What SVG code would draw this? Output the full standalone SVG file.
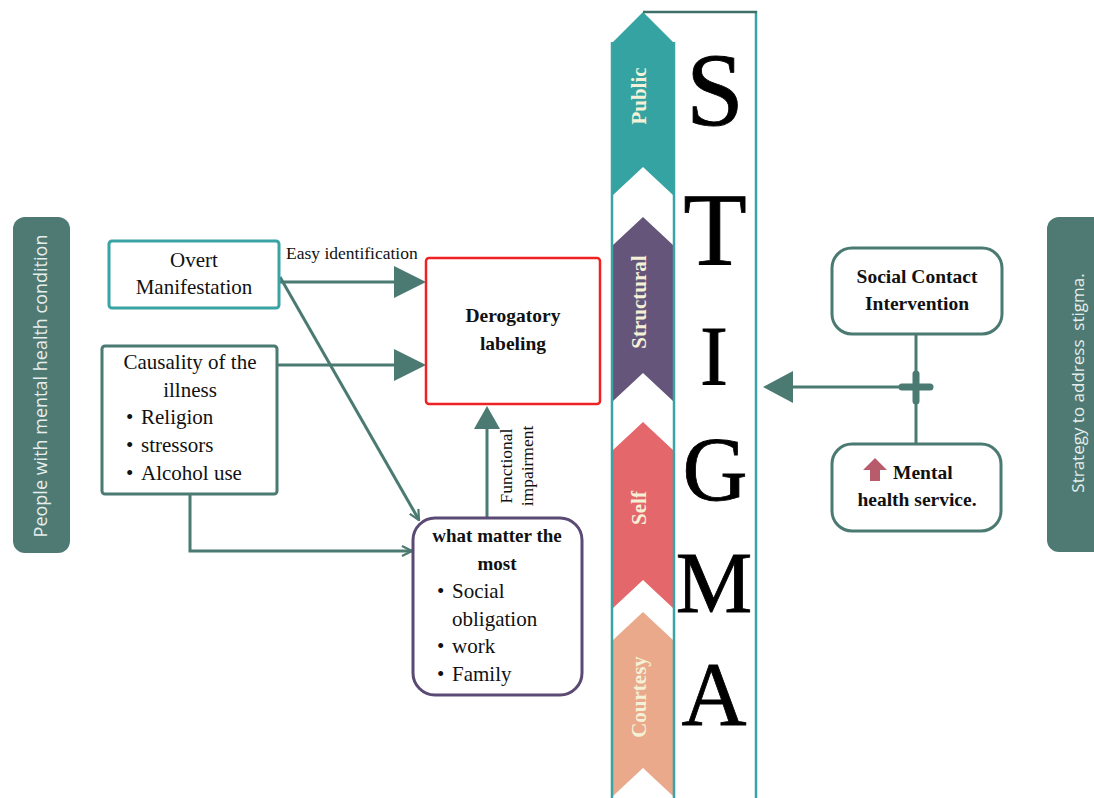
<svg xmlns="http://www.w3.org/2000/svg" width="1094" height="798" viewBox="0 0 1094 798">
<style>
.serif{font-family:"Liberation Serif","Times New Roman",serif;fill:#111}
.b{font-weight:bold}
.pill{fill:#4e7a73}
.pilltxt{font-family:"Open Sans","Noto Sans",sans-serif;fill:#e6eeec}
.conn{stroke:#4b7a72;stroke-width:3;fill:none}
.chev{font-family:"Liberation Serif",serif;font-weight:bold;font-size:21px;fill:#f4f1d6}
.big{font-family:"Liberation Serif","Times New Roman",serif;fill:#000;stroke:#000;stroke-width:0.8}
</style>
<defs>
<marker id="small" viewBox="0 0 12 12" refX="11" refY="6" markerWidth="12" markerHeight="12" markerUnits="userSpaceOnUse" orient="auto">
<path d="M1,1 L11,6 L1,11" fill="none" stroke="#4b7a72" stroke-width="2.2"/>
</marker>
</defs>
<rect width="1094" height="798" fill="#fff"/>

<g id="pill-left">
<rect class="pill" x="13" y="217" width="57" height="336" rx="12"/>
<text class="pilltxt" font-size="18" transform="rotate(-90 47 386)" x="47" y="386" text-anchor="middle">People with mental health condition</text>
</g>
<g id="pill-right">
<rect class="pill" x="1047" y="217" width="60" height="335" rx="12"/>
<text class="pilltxt" font-size="17" transform="rotate(-90 1084 383)" x="1084" y="383" text-anchor="middle" xml:space="preserve">Strategy to address  stigma.</text>
</g>

<g id="stigma">
<polygon points="613,42 643,12 673,42 673,195 643,167 613,195" fill="#35a3a2"/>
<polygon points="613,245 643,217 673,245 673,401 643,373 613,401" fill="#66557a"/>
<polygon points="613,450 643,422 673,450 673,608 643,580 613,608" fill="#e4676c"/>
<polygon points="613,640 643,612 673,640 673,796 643,768 613,796" fill="#e9a98a"/>
<line x1="612" y1="42" x2="612" y2="798" stroke="#3aa3a3" stroke-width="2.5"/>
<line x1="674" y1="42" x2="674" y2="798" stroke="#3aa3a3" stroke-width="2.5"/>
<line x1="756" y1="11" x2="756" y2="798" stroke="#3aa3a3" stroke-width="2.5"/>
<line x1="643" y1="12" x2="757" y2="12" stroke="#3f6f69" stroke-width="2.5"/>
<text class="chev" transform="rotate(-90 646 96)" x="646" y="96" text-anchor="middle">Public</text>
<text class="chev" transform="rotate(-90 646 302)" x="646" y="302" text-anchor="middle">Structural</text>
<text class="chev" transform="rotate(-90 646 508)" x="646" y="508" text-anchor="middle">Self</text>
<text class="chev" transform="rotate(-90 646 697)" x="646" y="697" text-anchor="middle">Courtesy</text>
<text class="big" x="715" y="125" font-size="104" text-anchor="middle">S</text>
<text class="big" x="715" y="265" font-size="104" text-anchor="middle">T</text>
<text class="big" x="714" y="385" font-size="84" text-anchor="middle">I</text>
<text class="big" x="715" y="500" font-size="90" text-anchor="middle">G</text>
<text class="big" x="714" y="612" font-size="86" text-anchor="middle">M</text>
<text class="big" x="714" y="725" font-size="90" text-anchor="middle">A</text>
</g>

<g id="connectors">
<line class="conn" x1="279" y1="282" x2="396" y2="282"/>
<polygon points="394,266 426,282 394,298" fill="#4b7a72"/>
<line class="conn" x1="277" y1="365" x2="396" y2="365"/>
<polygon points="394,349 426,365 394,381" fill="#4b7a72"/>
<line class="conn" x1="280" y1="277" x2="419" y2="520" marker-end="url(#small)"/>
<polyline class="conn" points="190,494 190,551 412,551" marker-end="url(#small)"/>
<line class="conn" x1="487" y1="518" x2="487" y2="426"/>
<polygon points="474,429 487,406 500,429" fill="#4b7a72"/>
<line class="conn" x1="916" y1="334" x2="916" y2="444"/>
<line class="conn" x1="930" y1="387" x2="790" y2="387"/>
<polygon points="793,371 763,387 793,403" fill="#4b7a72"/>
<line x1="902" y1="387" x2="930" y2="387" stroke="#4b7a72" stroke-width="7" stroke-linecap="round"/>
<line x1="916" y1="374" x2="916" y2="401" stroke="#4b7a72" stroke-width="7" stroke-linecap="round"/>
<text class="serif" x="286" y="259" font-size="17.5">Easy identification</text>
<text class="serif" transform="rotate(-90 512 466)" x="512" y="466" font-size="17.5" text-anchor="middle">Functional</text>
<text class="serif" transform="rotate(-90 533 466)" x="533" y="466" font-size="17.5" text-anchor="middle">impairment</text>
</g>

<g id="overt">
<rect x="109" y="241" width="170" height="67" rx="3" fill="#fff" stroke="#3aa3a3" stroke-width="3"/>
<text class="serif" x="194" y="267" font-size="21" text-anchor="middle">Overt</text>
<text class="serif" x="194" y="294" font-size="21" text-anchor="middle">Manifestation</text>
</g>

<g id="causality">
<rect x="102" y="346" width="175" height="148" rx="3" fill="#fff" stroke="#4b7a72" stroke-width="3"/>
<text class="serif" x="190" y="369" font-size="21" text-anchor="middle">Causality of the</text>
<text class="serif" x="190" y="397" font-size="21" text-anchor="middle">illness</text>
<text class="serif" x="126" y="424" font-size="21">• <tspan x="141">Religion</tspan></text>
<text class="serif" x="126" y="452" font-size="21">• <tspan x="141">stressors</tspan></text>
<text class="serif" x="126" y="480" font-size="21">• <tspan x="141">Alcohol use</tspan></text>
</g>

<g id="derogatory">
<rect x="426" y="258" width="174" height="146" rx="3" fill="#fff" stroke="#ee2222" stroke-width="2.5"/>
<text class="serif b" x="513" y="322" font-size="19.5" text-anchor="middle">Derogatory</text>
<text class="serif b" x="513" y="350" font-size="19.5" text-anchor="middle">labeling</text>
</g>

<g id="matter">
<rect x="413" y="518" width="169" height="177" rx="22" fill="#fff" stroke="#5b4a73" stroke-width="3"/>
<text class="serif b" x="497" y="542" font-size="19" text-anchor="middle">what matter the</text>
<text class="serif b" x="497" y="570" font-size="19" text-anchor="middle">most</text>
<text class="serif" x="437" y="598" font-size="21">• <tspan x="452">Social</tspan></text>
<text class="serif" x="452" y="626" font-size="21">obligation</text>
<text class="serif" x="437" y="653" font-size="21">• <tspan x="452">work</tspan></text>
<text class="serif" x="437" y="681" font-size="21">• <tspan x="452">Family</tspan></text>
</g>

<g id="social">
<rect x="832" y="248" width="170" height="86" rx="20" fill="#fff" stroke="#4b7a72" stroke-width="3"/>
<text class="serif b" x="917" y="283" font-size="19.5" text-anchor="middle">Social Contact</text>
<text class="serif b" x="917" y="310" font-size="19.5" text-anchor="middle">Intervention</text>
</g>

<g id="mental">
<rect x="832" y="444" width="169" height="87" rx="20" fill="#fff" stroke="#4b7a72" stroke-width="3"/>
<polygon points="875,458 887,470 880,470 880,481 870,481 870,470 863,470" fill="#b85c6b"/>
<text class="serif b" x="893" y="479" font-size="19.5">Mental</text>
<text class="serif b" x="917" y="506" font-size="19.5" text-anchor="middle">health service.</text>
</g>
</svg>
